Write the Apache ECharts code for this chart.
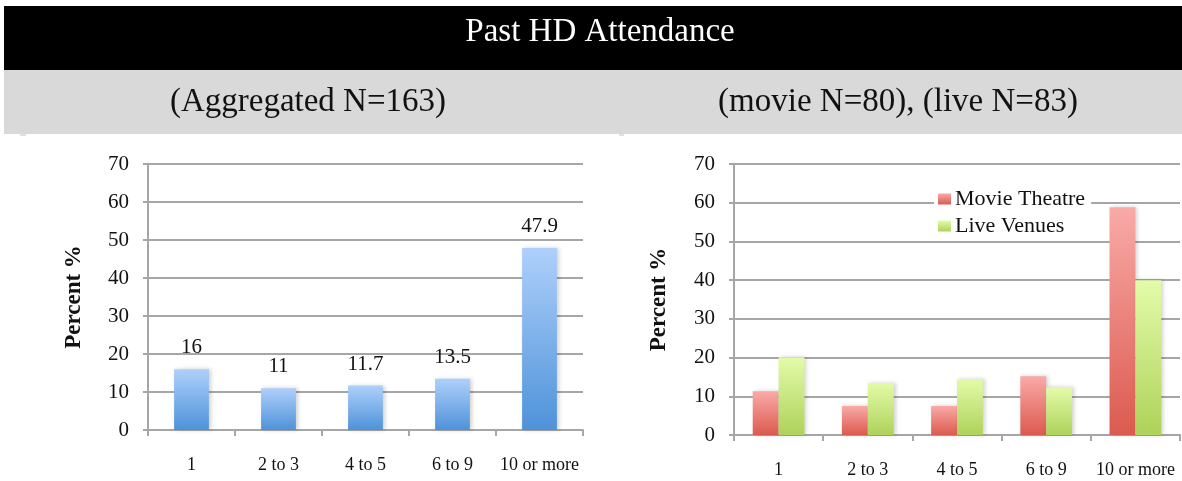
<!DOCTYPE html>
<html>
<head>
<meta charset="utf-8">
<script src="https://cdn.jsdelivr.net/npm/echarts@6/dist/echarts.min.js"></script>
<style>
  html, body { margin: 0; padding: 0; background: #ffffff; }
  #chart { width: 1182px; height: 481px; }
</style>
</head>
<body>
<div id="chart"></div>
<script>
// Attendance frequency buckets
const categories = ['1', '2 to 3', '4 to 5', '6 to 9', '10 or more'];
const yTicks = [0, 10, 20, 30, 40, 50, 60, 70];

// Percent of respondents per bucket
const aggregated = [16, 11, 11.7, 13.5, 47.9];
const movieTheatre = [11.3, 7.5, 7.5, 15.2, 58.8];
const liveVenues = [20.1, 13.4, 14.4, 12.3, 40.0];

const titleText = 'Past HD Attendance';
const leftSubtitle = '(Aggregated N=163)';
const rightSubtitle = '(movie N=80), (live N=83)';
const seriesNames = ['Movie Theatre', 'Live Venues'];

const FONT = '"Liberation Serif", "Times New Roman", serif';
const GRID_GREY = '#a6a6a6';

function vGrad(top, bottom) {
  return new echarts.graphic.LinearGradient(0, 0, 0, 1, [
    { offset: 0, color: top },
    { offset: 1, color: bottom }
  ]);
}

function xAxisFor(gridIndex) {
  return {
    type: 'category',
    gridIndex: gridIndex,
    data: categories,
    axisLine: { lineStyle: { color: GRID_GREY, width: 2 } },
    axisTick: { show: true, length: 6, lineStyle: { color: GRID_GREY, width: 2 } },
    axisLabel: { color: '#111', fontFamily: FONT, fontSize: 18, margin: 26, interval: 0 }
  };
}

function yAxisFor(gridIndex, gap) {
  return {
    type: 'value',
    gridIndex: gridIndex,
    min: yTicks[0],
    max: yTicks[yTicks.length - 1],
    interval: 10,
    name: 'Percent %',
    nameLocation: 'middle',
    nameRotate: 90,
    nameGap: gap,
    nameTextStyle: { color: '#111', fontFamily: FONT, fontSize: 23, fontWeight: 'bold' },
    axisLine: { show: true, lineStyle: { color: GRID_GREY, width: 2 } },
    axisTick: { show: true, length: 5, lineStyle: { color: GRID_GREY, width: 2 } },
    axisLabel: { color: '#111', fontFamily: FONT, fontSize: 21, margin: 19 },
    splitLine: { show: true, lineStyle: { color: GRID_GREY, width: 2 } }
  };
}

const barShadow = { shadowBlur: 4, shadowColor: 'rgba(0,0,0,0.18)', shadowOffsetX: 2 };

const chart = echarts.init(document.getElementById('chart'), null, { renderer: 'canvas' });

chart.setOption({
  animation: false,
  backgroundColor: '#ffffff',
  graphic: [
    { type: 'rect', shape: { x: 4, y: 6, width: 1178, height: 64 }, style: { fill: '#000000' }, z: 0 },
    { type: 'rect', shape: { x: 4, y: 70, width: 1178, height: 64 }, style: { fill: '#d9d9d9' }, z: 0 },
    { type: 'rect', shape: { x: 20, y: 134, width: 6, height: 2 }, style: { fill: '#e0e0e0' }, z: 0 },
    { type: 'rect', shape: { x: 619, y: 134, width: 5, height: 2 }, style: { fill: '#e0e0e0' }, z: 0 }
  ],
  title: [
    {
      text: titleText, left: 595, top: 11, textAlign: 'center',
      textStyle: { color: '#ffffff', fontFamily: FONT, fontSize: 33, fontWeight: 'normal' }
    },
    {
      text: leftSubtitle, left: 303, top: 81, textAlign: 'center',
      textStyle: { color: '#111', fontFamily: FONT, fontSize: 33, fontWeight: 'normal' }
    },
    {
      text: rightSubtitle, left: 893, top: 81, textAlign: 'center',
      textStyle: { color: '#111', fontFamily: FONT, fontSize: 33, fontWeight: 'normal' }
    }
  ],
  legend: {
    data: seriesNames,
    orient: 'vertical',
    left: 934,
    top: 186,
    itemWidth: 13,
    itemHeight: 11,
    itemGap: 5,
    icon: 'rect',
    backgroundColor: '#ffffff',
    padding: [2, 6, 2, 4],
    textStyle: { color: '#111', fontFamily: FONT, fontSize: 22, padding: [0, 0, 0, -1] }
  },
  grid: [
    { left: 148, top: 164, width: 435, height: 266 },
    { left: 734, top: 164, width: 446, height: 271 }
  ],
  xAxis: [xAxisFor(0), xAxisFor(1)],
  yAxis: [yAxisFor(0, 62), yAxisFor(1, 63)],
  series: [
    {
      name: 'Aggregated',
      type: 'bar',
      xAxisIndex: 0,
      yAxisIndex: 0,
      data: aggregated,
      barWidth: '40%',
      itemStyle: Object.assign({ color: vGrad('#aed0fb', '#4e92d9') }, barShadow),
      label: {
        show: true, position: 'top', distance: 11,
        color: '#111', fontFamily: FONT, fontSize: 21
      }
    },
    {
      name: seriesNames[0],
      type: 'bar',
      xAxisIndex: 1,
      yAxisIndex: 1,
      data: movieTheatre,
      barWidth: '29%',
      barGap: '0%',
      itemStyle: Object.assign({ color: vGrad('#f9aaa7', '#dc5a4f') }, barShadow)
    },
    {
      name: seriesNames[1],
      type: 'bar',
      xAxisIndex: 1,
      yAxisIndex: 1,
      data: liveVenues,
      barWidth: '29%',
      barGap: '0%',
      itemStyle: Object.assign({ color: vGrad('#e3fba9', '#aed25a') }, barShadow)
    }
  ]
});
</script>
</body>
</html>
